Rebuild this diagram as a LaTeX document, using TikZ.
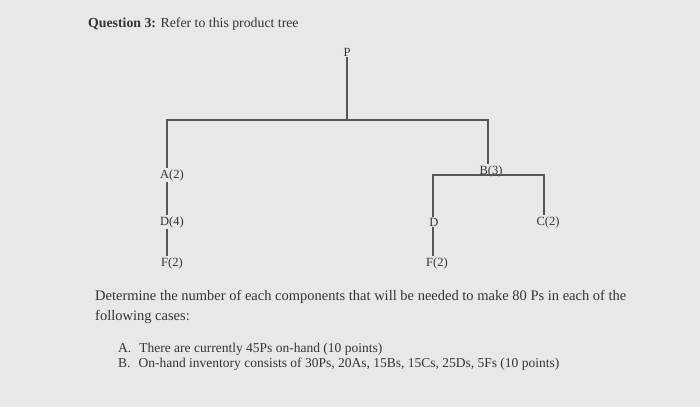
\documentclass[tikz,border=0pt]{standalone}
\usepackage{fontspec}
\setmainfont{Liberation Serif}
\usepackage{xcolor}
\definecolor{paper}{RGB}{232,232,229}
\definecolor{ink}{RGB}{52,52,52}
\definecolor{wire}{RGB}{85,85,85}
\tikzset{
  part/.style={inner sep=1pt, font=\fontsize{12.5}{14}\selectfont, text=ink},
  link/.style={draw=wire, line width=1.3pt},
  prose/.style={anchor=base west, inner sep=0pt, font=\fontsize{14.5}{17}\selectfont, text=ink},
  case/.style={prose, font=\fontsize{13.5}{16}\selectfont}
}
\begin{document}
\begin{tikzpicture}[x=1pt,y=-1pt]
      \fill[paper] (0,0) rectangle (700,407);
      \useasboundingbox (0,0) rectangle (700,407);
      % heading
      \node[prose, font=\fontsize{13.8}{16}\selectfont] (title) at (88,27) {\textbf{Question 3:} Refer to this product tree};
      % product tree
      \node[part] (P) at (347,52) {P};
      \coordinate (top) at (347,120);
      \node[part] (A) at (172,175) {A(2)};
      \node[part] (B) at (491,171) {B(3)};
      \coordinate (bbar) at (488,175);
      \node[part] (DA) at (172,222) {D(4)};
      \node[part] (FA) at (172,263) {F(2)};
      \node[part] (DB) at (434,222) {D};
      \node[part] (C) at (548,222) {C(2)};
      \node[part] (FB) at (437,263) {F(2)};
      \draw[link] (P) -- (top);
      \draw[link] (top) -| ([xshift=-5pt]A.north);
      \draw[link] (top) -| ([xshift=-3pt]B.north);
      \draw[link] ([xshift=-1pt]DB.north) |- (bbar) -| ([xshift=-4pt]C.north);
      \draw[link] ([xshift=-5pt]A.south) -- ([xshift=-5pt]DA.north);
      \draw[link] ([xshift=-5pt]DA.south) -- ([xshift=-5pt]FA.north);
      \draw[link] ([xshift=-1pt]DB.south) -- ([xshift=-4pt]FB.north);
      % question text
      \node[prose] (ask1) at (95,300) {Determine the number of each components that will be needed to make 80 Ps in each of the};
      \node[prose] (ask2) at (95,320) {following cases:};
      \node[case] (caseA) at (118,352) {A.\hspace{8pt}There are currently 45Ps on-hand (10 points)};
      \node[case] (caseB) at (118,367) {B.\hspace{8pt}On-hand inventory consists of 30Ps, 20As, 15Bs, 15Cs, 25Ds, 5Fs (10 points)};
\end{tikzpicture}
\end{document}
